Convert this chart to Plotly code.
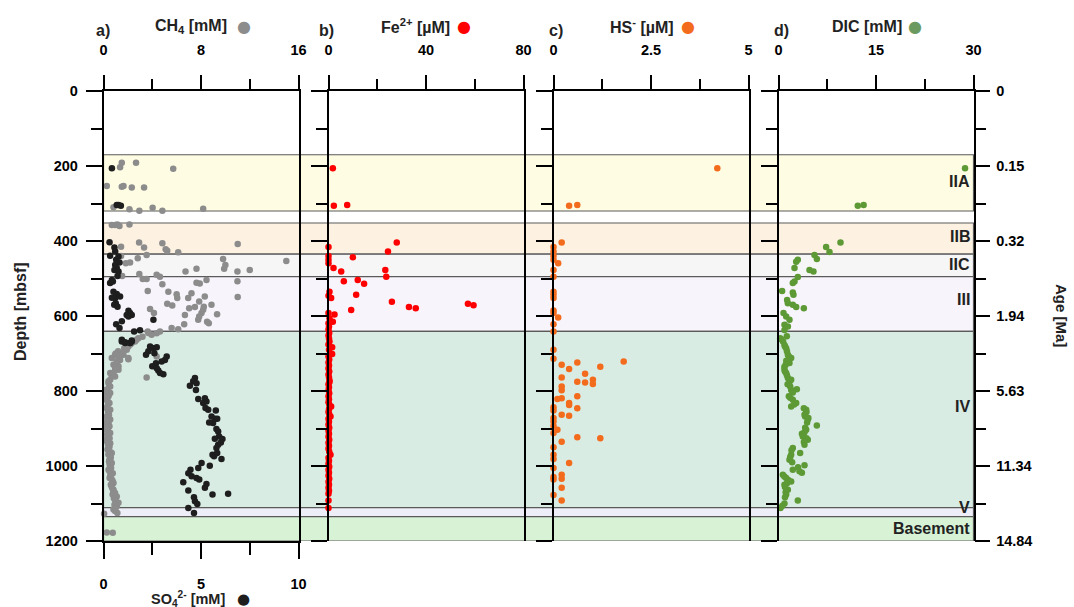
import plotly.graph_objects as go

# ---------------- data (depth in mbsf, value) ----------------
ch4_depth = [191, 191, 203, 207, 253, 255, 253, 257, 257, 310, 315, 319, 311, 319, 314, 357, 357, 356, 360, 356,
             404, 417, 406, 422, 426, 430, 437, 408, 415, 440, 457, 459, 446, 448, 464, 474, 481, 477, 453, 481, 474,
             488, 501, 501, 490, 495, 493,
             511, 513, 504, 515, 533, 535, 542, 552, 539, 552, 548, 507, 549, 561, 570, 567, 572, 581, 592, 579, 576,
             575, 583, 592, 601, 610, 595, 597, 615, 619, 622, 632, 635, 641, 641,
             646, 650, 645, 659, 668, 672, 681, 690, 699, 708, 703, 712, 721, 730, 734, 743, 752, 761, 774, 788, 796,
             810, 819, 708, 764, 715, 655, 663, 676, 686, 694, 700, 706,
             703, 712, 717, 726, 734, 743, 752, 761, 770, 779, 788, 797, 805, 814, 823, 832, 841, 850, 859, 868, 876,
             885, 894, 903, 912, 921, 930, 939, 947, 956, 965, 974, 983, 992, 1001, 1010, 1019, 1027, 1036, 1045,
             1054, 1063, 1072, 1081, 1090, 1098, 1107, 1116, 1125, 1127, 1177, 1178,
             805, 815, 828, 845, 855, 864, 880, 890, 898, 908, 916, 926, 935, 943, 952, 960, 969, 978, 988, 996,
             1005, 1014, 1023, 1032, 1040, 1050, 1058, 1068, 1076, 1086, 1094, 1103, 1112, 1120]
ch4_val = [1.50, 2.67, 1.36, 5.72, 0.27, 1.50, 1.64, 2.32, 3.33, 0.82, 2.13, 2.94, 4.03, 4.83, 8.18, 0.68, 0.95, 1.14, 1.31, 2.13,
           2.92, 3.33, 4.83, 5.10, 5.23, 6.13, 3.54, 11.01, 1.44, 1.44, 2.18, 1.83, 2.81, 9.81, 10.0, 9.9, 10.99, 12.0, 15.0, 6.73, 7.63,
           2.94, 3.22, 3.54, 4.36, 4.63, 1.53,
           7.63, 7.9, 8.45, 4.83, 3.63, 5.32, 6.0, 6.05, 7.22, 6.95, 8.31, 10.99, 11.01, 7.85, 8.86, 5.23, 5.64, 3.82, 4.14, 7.03, 7.5,
           8.23, 8.18, 8.04, 7.85, 7.77, 9.32, 6.68, 8.5, 8.64, 6.62, 5.59, 6.13, 4.63, 3.63,
           4.36, 3.95, 3.68, 2.86, 2.59, 2.32, 2.04, 1.91, 1.5, 1.36, 0.95, 0.68, 1.09, 0.82, 1.23, 0.95, 0.55, 0.68, 0.41, 0.55, 0.27,
           0.41, 0.14, 4.36, 3.54, 2.04, 3.2, 2.7, 2.2, 1.7, 1.2, 1.0, 1.1,
           1.64, 2.04, 1.36, 1.09, 0.95, 1.23, 0.82, 0.95, 0.55, 0.41, 0.49, 0.27, 0.55, 0.41, 0.27, 0.49, 0.33, 0.55, 0.41, 0.27, 0.55,
           0.41, 0.49, 0.27, 0.55, 0.41, 0.14, 0.55, 0.49, 0.33, 0.68, 0.55, 0.49, 0.68, 0.55, 0.41, 0.76, 0.55, 0.68, 0.82,
           0.68, 0.82, 0.95, 1.09, 0.95, 1.23, 1.09, 0.82, 1.14, 0.05, 0.27, 0.76,
           0.3, 0.2, 0.35, 0.25, 0.38, 0.45, 0.3, 0.2, 0.35, 0.4, 0.28, 0.5, 0.3, 0.38, 0.45, 0.5, 0.4, 0.6, 0.45, 0.5,
           0.62, 0.5, 0.6, 0.5, 0.75, 0.6, 0.7, 0.8, 0.75, 0.85, 1.0, 0.9, 1.0, 0.95]

so4_depth = [206, 304, 304, 306, 403, 417, 428, 439, 441, 450, 457, 464, 472, 477, 481, 493, 504, 512, 508, 535, 541, 552,
             551, 548, 566, 570, 575, 586, 592, 597, 597, 601, 610, 614, 622, 632, 641, 638,
             663, 672, 672, 668, 668, 670, 672, 665, 681, 686, 683, 694, 703, 699, 708, 717, 721, 726, 734, 739, 745, 752,
             755, 765, 774, 779, 786, 797, 821, 819, 828, 832, 845, 850, 852, 868, 874, 874, 885, 884, 901, 908, 921, 928,
             927, 937, 943, 952, 965, 970, 974, 981, 992, 1005, 999, 1010, 1019, 1027, 1032, 1036, 1043, 1048, 1058, 1065,
             1076, 1074, 1083, 1094, 1101, 1112, 1125]
so4_val = [0.43, 0.68, 0.77, 0.89, 0.31, 0.56, 0.6, 0.34, 0.77, 0.65, 0.82, 0.6, 0.68, 0.56, 0.77, 0.72, 0.43, 0.34, 0.48, 0.51, 0.68, 0.6,
           0.43, 0.85, 0.63, 0.55, 0.72, 1.28, 1.36, 1.19, 1.45, 1.28, 2.56, 0.94, 0.65, 0.82, 1.57, 1.87,
           0.94, 1.11, 1.36, 1.45, 0.94, 1.11, 1.36, 1.45, 2.39, 2.56, 2.73, 2.30, 2.18, 2.61, 3.24, 3.15, 2.98, 2.69, 2.50, 2.73, 2.81, 2.90,
           3.07, 4.69, 4.60, 4.77, 4.43, 4.74, 4.86, 5.20, 5.28, 5.11, 5.23, 5.37, 5.76, 5.54, 5.71, 5.83, 5.62, 5.42, 5.79, 5.88, 5.93, 6.10,
           5.71, 6.02, 5.88, 5.79, 5.83, 5.59, 5.67, 6.05, 5.03, 4.86, 5.45, 4.46, 4.35, 4.52, 4.77, 4.91, 4.09, 5.28, 5.20, 4.35,
           5.59, 6.39, 4.64, 4.69, 4.81, 4.35, 4.64]

fe_depth = [206, 306, 304, 404, 428, 416, 440, 450, 459, 443, 472, 481, 477, 495, 507, 504, 514, 535, 546, 552, 543, 562,
            576, 579, 567, 571, 584, 592, 596, 606, 615, 619,
            628, 636, 645, 652, 660, 668, 676, 683, 690, 701, 708, 716, 724, 732, 740, 748, 756, 764, 772, 776, 782, 790,
            798, 806, 814, 822, 830, 836, 841, 848, 856, 862, 868, 874, 882, 890, 898, 906, 914, 922, 930, 938, 946, 954,
            962, 970, 978, 986, 994, 1002, 1010, 1018, 1026, 1034, 1042, 1050, 1058, 1066, 1074, 1092, 1112]
fe_val = [1.78, 2.19, 7.66, 28.0, 24.4, 0, 0, 0, 0, 9.99, 2.05, 5.2, 23.3, 23.7, 6.29, 12.0, 14.6, 0.41, 0, 1.09, 11.35, 26.0,
          33.0, 35.8, 57.2, 59.5, 9.3, 0, 2.46, 0.41, 1.78, 0,
          0.2, 0, 0.3, 0, 0.2, 0.4, 0, 1.5, 0.2, 1.5, 0, 0.3, 0, 0.2, 0, 0.3, 0, 0.2, 0.4, 0.4, 0, 0.2,
          0, 0.3, 0, 0.2, 0, 0.3, 1.09, 0.2, 0, 0.3, 0.82, 0, 0.2, 0, 0.3, 0, 0.2, 0, 0.3, 0, 0.2, 0,
          0.3, 0.82, 0, 0.2, 0, 0.3, 0, 0.2, 0, 0.3, 0, 0.2, 0, 0.2, 0, 0, 0]

hs_depth = [206, 306, 304, 404, 416, 428, 440, 450, 459, 477, 495, 535, 543, 552, 585, 592, 604, 622, 641, 690, 714, 730,
            724, 721, 741, 735, 754, 764, 775, 777, 770, 781, 788, 798, 819, 821, 814, 832, 837, 846, 843, 852, 863, 866,
            872, 881, 893, 903, 912, 923, 926, 935, 950, 970, 981, 992, 1005, 1029, 1036, 1023, 1034, 1058, 1077, 1092]
hs_val = [4.20, 0.40, 0.61, 0.21, 0, 0, 0, 0, 0.12, 0, 0, 0, 0, 0, 0, 0, 0.12, 0, 0, 0, 0, 0.21,
          0.61, 1.80, 0.40, 1.20, 0.81, 0.21, 0.61, 0.81, 1.01, 1.01, 0.21, 0.21, 0.21, 0.10, 0.61, 0.40, 0.40, 0.61, 0, 0, 0.21, 0.40,
          0, 0, 0, 0.10, 0, 0.61, 1.20, 0.21, 0, 0, 0, 0.40, 0, 0, 0, 0.21, 0.21, 0.21, 0, 0.21]

dic_depth = [206, 306, 304, 404, 416, 429, 437, 448, 477, 481, 455, 450, 472, 496, 508, 512, 533, 537, 543, 557, 566, 570,
             576, 579, 592, 601, 610, 623, 628, 637, 654, 659,
             662, 677, 686, 703, 712, 725, 743, 752, 765, 770, 797, 795, 814, 823, 832, 841, 850, 863, 876, 892, 903, 921,
             930, 943, 952, 970, 965, 983, 1010, 1014, 998, 1023, 1032, 1041, 1050, 1063, 1076, 1092, 1100, 1112,
             668, 681, 694, 708, 719, 730, 736, 748, 758, 775, 782, 788, 804, 818, 836, 846, 856, 868, 872, 884, 898, 910,
             914, 926, 936, 958, 976, 990, 1003, 1018, 1028, 1037, 1046, 1056, 1070, 1083, 1106]
dic_val = [28.7, 12.2, 13.1, 9.54, 7.33, 7.85, 5.54, 5.9, 4.77, 5.38, 2.72, 2.97, 2.46, 2.97, 2.46, 2.2, 0.56, 2.2, 2.3, 1.33, 1.44, 2.2,
           2.72, 3.9, 0.77, 1.18, 1.69, 0.92, 1.44, 0.92, 1.28, 0.26,
           0.41, 0.92, 1.18, 1.44, 1.95, 1.69, 0.92, 1.18, 1.44, 1.95, 1.95, 2.82, 1.59, 2.2, 2.72, 1.95, 4.26, 4.0, 4.51, 5.9, 4.26, 3.74,
           4.51, 4.0, 2.2, 1.95, 3.33, 1.69, 2.2, 3.23, 4.0, 0.67, 1.18, 1.95, 0.92, 1.44, 1.18, 2.97, 0.92, 0.31,
           0.7, 1.0, 1.3, 1.6, 1.2, 1.1, 0.9, 1.0, 1.3, 1.7, 1.4, 1.8, 2.2, 1.8, 2.4, 3.9, 4.3, 4.1, 4.6, 4.4, 4.1, 4.0,
           3.6, 4.3, 3.9, 2.0, 1.8, 2.1, 3.0, 3.6, 0.9, 1.5, 1.3, 1.0, 1.1, 1.0, 0.6]

# lithostratigraphic units
unit_names = ["IIA", "IIB", "IIC", "III", "IV", "V", "Basement"]
unit_top = [170, 352, 435, 495, 641, 1111, 1135]
unit_bottom = [320, 435, 495, 641, 1111, 1135, 1200]
unit_label_depth = [240, 389, 463, 557, 842, 1111, 1167]
unit_colors = ["#fefde3", "#fdf2e2", "#f6f6f6", "#f8f4fc", "#d9ece4", "#eeeef9", "#d8f2d6"]

depth_ticks = [0, 200, 400, 600, 800, 1000, 1200]
age_labels = ["0", "0.15", "0.32", "1.94", "5.63", "11.34", "14.84"]

# ---------------- styling ----------------
W, H = 1074, 607
FONT = "Liberation Sans, Arial, sans-serif"
C_CH4, C_SO4, C_FE, C_HS, C_DIC = "#8c8c8c", "#1e1e1e", "#ff0000", "#f36b1c", "#5d9a35"


def fx(p):
    return p / W


def fy(p):
    return 1 - p / H


panels = [(103.5, 298.5), (328.5, 523.5), (553.5, 748.5), (778.5, 973.5)]
ydom = [fy(541), fy(91)]
tickfont = dict(family=FONT, size=14.5, color="black", weight="bold")

fig = go.Figure()


def add(x, y, color, xa, ya):
    fig.add_trace(go.Scatter(x=x, y=y, mode="markers", xaxis=xa, yaxis=ya, cliponaxis=False,
                             marker=dict(size=6.5, color=color, line=dict(width=0)), showlegend=False,
                             hoverinfo="skip"))


add(ch4_val, ch4_depth, C_CH4, "x", "y")
add(so4_val, so4_depth, C_SO4, "x5", "y")
add(fe_val, fe_depth, C_FE, "x2", "y2")
add(hs_val, hs_depth, C_HS, "x3", "y3")
add(dic_val, dic_depth, C_DIC, "x4", "y4")

xranges = [(16, 8, 4), (80, 40, 20), (5, 2.5, 1.25), (30, 15, 7.5)]
layout = dict(width=W, height=H, margin=dict(l=0, r=0, t=0, b=0, autoexpand=False),
              paper_bgcolor="white", plot_bgcolor="rgba(0,0,0,0)", showlegend=False)

for i, ((l, r), (mx, dt, mdt)) in enumerate(zip(panels, xranges)):
    n = "" if i == 0 else str(i + 1)
    layout["xaxis" + n] = dict(domain=[fx(l), fx(r)], range=[0, mx], anchor="y" + n, side="top",
                               dtick=dt, tick0=0, ticks="outside", ticklen=14, tickwidth=1.5, tickcolor="black",
                               minor=dict(dtick=mdt, tick0=0, ticks="outside", ticklen=10, tickwidth=1.5,
                                          tickcolor="black"),
                               showline=True, linecolor="black", linewidth=1.5, showgrid=False, zeroline=False,
                               tickfont=tickfont, ticklabelstandoff=14, automargin=False, fixedrange=True)
    layout["yaxis" + n] = dict(domain=ydom, range=[1200, 0], anchor="x" + n, dtick=200, tick0=0,
                               ticks="outside", ticklen=16, tickwidth=1.5, tickcolor="black",
                               minor=dict(dtick=100, tick0=0, ticks="outside", ticklen=11, tickwidth=1.5,
                                          tickcolor="black"),
                               showline=True, linecolor="black", linewidth=1.5, mirror=True,
                               showgrid=False, zeroline=False, showticklabels=(i == 0),
                               tickfont=tickfont, ticklabelstandoff=5, automargin=False)

layout["xaxis5"] = dict(overlaying="x", range=[0, 10], anchor="y", side="bottom", dtick=5, tick0=0,
                        ticks="outside", ticklen=16, tickwidth=1.5, tickcolor="black",
                        minor=dict(dtick=2.5, tick0=0, ticks="outside", ticklen=12, tickwidth=1.5,
                                   tickcolor="black"),
                        showline=True, linecolor="black", linewidth=1.5, showgrid=False, zeroline=False,
                        tickfont=tickfont, ticklabelstandoff=13, automargin=False)
layout["yaxis5"] = dict(overlaying="y4", side="right", anchor="x4", range=[1200, 0],
                        tickvals=depth_ticks, ticktext=age_labels, ticks="outside", ticklen=15,
                        tickwidth=1.5, tickcolor="black",
                        minor=dict(dtick=100, tick0=0, ticks="outside", ticklen=11, tickwidth=1.5,
                                   tickcolor="black"),
                        showline=True, linecolor="black", linewidth=1.5, showgrid=False, zeroline=False,
                        tickfont=tickfont, ticklabelstandoff=3, automargin=False)
fig.update_layout(**layout)
# empty trace so the age axis is drawn
fig.add_trace(go.Scatter(x=[None], y=[None], xaxis="x4", yaxis="y5", showlegend=False))

# unit bands
shapes = []
for t, b, c in zip(unit_top, unit_bottom, unit_colors):
    shapes.append(dict(type="rect", xref="paper", yref="y", x0=fx(panels[0][0]), x1=fx(panels[3][1]),
                       y0=t, y1=b, fillcolor=c, line=dict(color="#5a5a5a", width=1.2), layer="below"))
fig.update_layout(shapes=shapes)

ann = []
for name, d in zip(unit_names, unit_label_depth):
    ann.append(dict(text=name, xref="paper", yref="y", x=fx(972), y=d, xanchor="right", yanchor="middle",
                    showarrow=False, font=dict(family=FONT, size=16, color="#222", weight="bold")))

tfont = dict(family=FONT, size=16, color="#222", weight="bold")
letters = [("a)", 103), ("b)", 326), ("c)", 556), ("d)", 781)]
for t, x in letters:
    ann.append(dict(text=t, xref="paper", yref="paper", x=fx(x), y=fy(30), xanchor="center", yanchor="middle",
                    showarrow=False, font=tfont))
titles = [("CH<sub>4</sub> [mM]", 153, C_CH4, 244),
          ("Fe<sup>2+</sup> [µM]", 379, C_FE, 464),
          ("HS<sup>-</sup> [µM]", 608, C_HS, 688),
          ("DIC [mM]", 830, "#6a9a60", 915)]
for t, x, c, dx in titles:
    ann.append(dict(text=t, xref="paper", yref="paper", x=fx(x), y=fy(26), xanchor="left", yanchor="middle",
                    showarrow=False, font=tfont))
    ann.append(dict(text="●", xref="paper", yref="paper", x=fx(dx), y=fy(26), xanchor="center", yanchor="middle",
                    showarrow=False, font=dict(family="DejaVu Sans", size=16, color=c)))
ann.append(dict(text="SO<sub>4</sub><sup>2-</sup> [mM]", xref="paper", yref="paper", x=fx(149), y=fy(599),
                xanchor="left", yanchor="middle", showarrow=False,
                font=dict(family=FONT, size=14.5, color="#222", weight="bold")))
ann.append(dict(text="●", xref="paper", yref="paper", x=fx(243), y=fy(599), xanchor="center", yanchor="middle",
                showarrow=False, font=dict(family="DejaVu Sans", size=15, color=C_SO4)))
ann.append(dict(text="Depth [mbsf]", xref="paper", yref="paper", x=fx(20), y=fy(312), textangle=-90,
                xanchor="center", yanchor="middle", showarrow=False, font=tfont))
ann.append(dict(text="Age [Ma]", xref="paper", yref="paper", x=fx(1062), y=fy(315), textangle=90,
                xanchor="center", yanchor="middle", showarrow=False,
                font=dict(family=FONT, size=15, color="#222", weight="bold")))
fig.update_layout(annotations=ann)

fig.write_html("out.html")
